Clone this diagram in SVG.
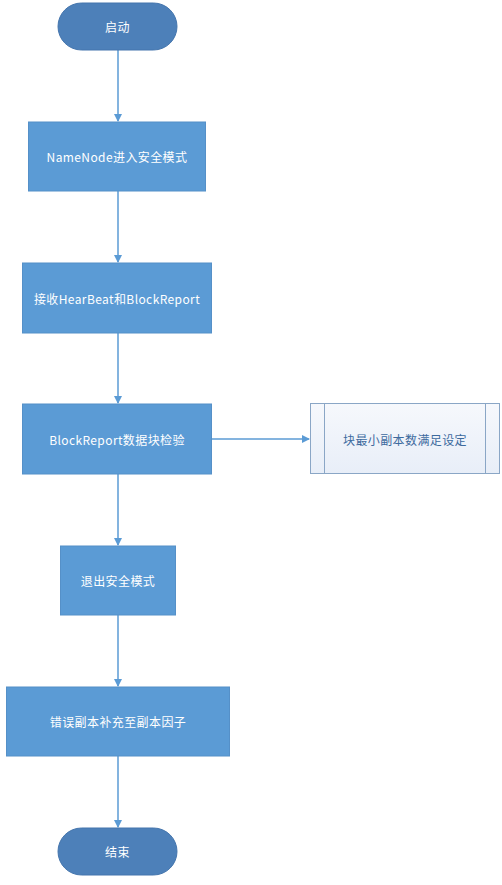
<svg xmlns="http://www.w3.org/2000/svg" width="502" height="885" viewBox="0 0 502 885">
<style>
.term{fill:#4d80b9;stroke:#4475ad;stroke-width:1}
.box{fill:#5b9bd5;stroke:#5590c8;stroke-width:1}
.t{font-family:"Noto Sans CJK SC","Noto Sans",sans-serif;font-size:12px;letter-spacing:0.4px;fill:#ffffff;text-anchor:middle;dominant-baseline:central}
.ts{font-family:"Noto Sans CJK SC","Noto Sans",sans-serif;font-size:12px;letter-spacing:0.4px;fill:#3d6a9e;text-anchor:middle;dominant-baseline:central}
.c{stroke:#5b9bd5;stroke-width:1.5;fill:none}
</style>
<defs>
<marker id="ah" markerWidth="8" markerHeight="8" refX="7" refY="4" orient="auto" markerUnits="userSpaceOnUse">
<path d="M0,0 L8,4 L0,8 Z" fill="#5b9bd5"/>
</marker>
<linearGradient id="g" x1="0" y1="0" x2="0" y2="1">
<stop offset="0" stop-color="#f6f8fc"/>
<stop offset="1" stop-color="#e8eef8"/>
</linearGradient>
</defs>
<g id="connectors">
<line class="c" x1="118" y1="50" x2="118" y2="121" marker-end="url(#ah)"/>
<line class="c" x1="118" y1="191" x2="118" y2="262" marker-end="url(#ah)"/>
<line class="c" x1="118" y1="333" x2="118" y2="403" marker-end="url(#ah)"/>
<line class="c" x1="212" y1="439" x2="309" y2="439" marker-end="url(#ah)"/>
<line class="c" x1="118" y1="474" x2="118" y2="545" marker-end="url(#ah)"/>
<line class="c" x1="118" y1="615" x2="118" y2="686" marker-end="url(#ah)"/>
<line class="c" x1="118" y1="756" x2="118" y2="827" marker-end="url(#ah)"/>
</g>
<g id="start">
<rect class="term" x="58" y="3" width="119" height="47" rx="23.5" ry="23.5"/>
<text class="t" x="117.5" y="26.5">启动</text>
</g>
<g id="n1">
<rect class="box" x="28.5" y="122" width="177" height="69"/>
<text class="t" x="117" y="156.5">NameNode进入安全模式</text>
</g>
<g id="n2">
<rect class="box" x="22.5" y="263" width="189" height="70"/>
<text class="t" x="117" y="298">接收HearBeat和BlockReport</text>
</g>
<g id="n3">
<rect class="box" x="22.5" y="404" width="189" height="70"/>
<text class="t" x="117" y="439">BlockReport数据块检验</text>
</g>
<g id="side">
<rect x="310.5" y="403.5" width="189" height="70" fill="url(#g)" stroke="#8aa6c6" stroke-width="1"/>
<line x1="324.5" y1="403.5" x2="324.5" y2="473.5" stroke="#8aa6c6" stroke-width="1"/>
<line x1="485.5" y1="403.5" x2="485.5" y2="473.5" stroke="#8aa6c6" stroke-width="1"/>
<text class="ts" x="405" y="439">块最小副本数满足设定</text>
</g>
<g id="n4">
<rect class="box" x="60.5" y="546" width="115" height="69"/>
<text class="t" x="118" y="580.5">退出安全模式</text>
</g>
<g id="n5">
<rect class="box" x="6.5" y="687" width="223" height="69"/>
<text class="t" x="118" y="721.5">错误副本补充至副本因子</text>
</g>
<g id="end">
<rect class="term" x="58" y="828" width="119" height="47" rx="23.5" ry="23.5"/>
<text class="t" x="117.5" y="851.5">结束</text>
</g>
</svg>
